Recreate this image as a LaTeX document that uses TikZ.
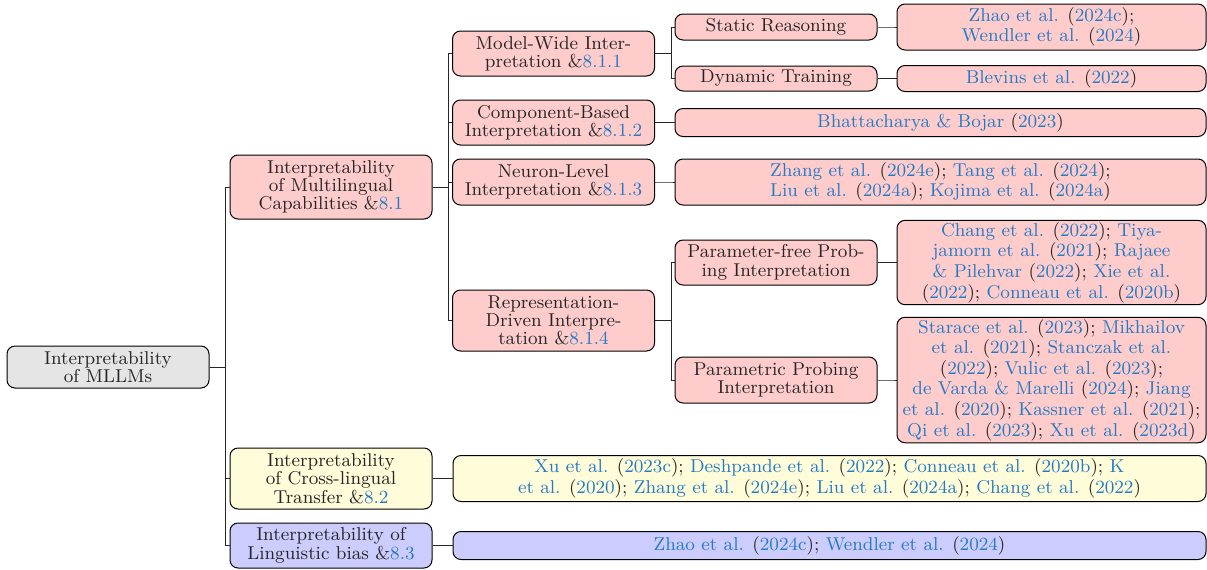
\documentclass[tikz,border=0pt]{standalone}
\usepackage{xcolor}
\usepackage{tikz}
\definecolor{citeblue}{RGB}{37,122,196}
\newcommand{\citeb}[2]{\textcolor{citeblue}{#1} (\textcolor{citeblue}{#2})}
\newcommand{\secb}[1]{\&\textcolor{citeblue}{#1}}
\tikzstyle{itp} = [rectangle, rounded corners=4pt, draw=black, line width=0.5pt, align=center, inner sep=1pt, text=black!85, font=\fontsize{9.3}{9.15}\selectfont]
\tikzstyle{itp_g} = [itp, fill=black!10, minimum width=101pt]
\tikzstyle{itp_r} = [itp, fill=red!20, minimum width=101pt]
\tikzstyle{itp_y} = [itp, fill=yellow!15, minimum width=101pt]
\tikzstyle{itp_b} = [itp, fill=blue!20, minimum width=101pt]
\tikzstyle{edge} = [line width=0.5pt, draw=black!85]

\begin{document}
\begin{tikzpicture}[x=0.5pt,y=-0.5pt]
\useasboundingbox (0,0) rectangle (1207,569);
% root and first level
\node [itp_g, minimum height=21pt] (root) at (108,367) {Interpretability\\of MLLMs};
\node [itp_r, minimum height=32pt] (mlc) at (331,187) {Interpretability\\of Multilingual\\Capabilities \secb{8.1}};
\node [itp_y, minimum height=30.5pt] (clt) at (331,478.5) {Interpretability\\of Cross-lingual\\Transfer \secb{8.2}};
\node [itp_b, minimum height=22.5pt] (lb) at (331,545.5) {Interpretability of\\Linguistic bias \secb{8.3}};
% second level
\node [itp_r, minimum height=22.5pt] (mw) at (553.5,53.5) {Model-Wide Inter-\\pretation \secb{8.1.1}};
\node [itp_r, minimum height=22.5pt] (cb) at (553.5,122.5) {Component-Based\\Interpretation \secb{8.1.2}};
\node [itp_r, minimum height=23pt] (nl) at (553.5,182) {Neuron-Level\\Interpretation \secb{8.1.3}};
\node [itp_r, minimum height=30.5pt] (rd) at (553.5,320.5) {Representation-\\Driven Interpre-\\tation \secb{8.1.4}};
% third level
\node [itp_r, minimum height=13pt] (sr) at (776,27) {Static Reasoning};
\node [itp_r, minimum height=12.5pt] (dt) at (776,78.5) {Dynamic Training};
\node [itp_r, minimum height=22.5pt] (pf) at (776,262.5) {Parameter-free Prob-\\ing Interpretation};
\node [itp_r, minimum height=23pt] (pp) at (776,380) {Parametric Probing\\Interpretation};
% leaves
\node [itp_r, minimum width=154.5pt, minimum height=23pt] (leaf 1) at (1051.5,27) {\citeb{Zhao et al.}{2024c};\\\citeb{Wendler et al.}{2024}};
\node [itp_r, minimum width=154.5pt, minimum height=13pt] (leaf 2) at (1051.5,78.5) {\citeb{Blevins et al.}{2022}};
\node [itp_r, minimum width=265.5pt, minimum height=14pt] (leaf 3) at (940.5,122.5) {\citeb{Bhattacharya \& Bojar}{2023}};
\node [itp_r, minimum width=265.5pt, minimum height=23pt] (leaf 4) at (940.5,182) {\citeb{Zhang et al.}{2024e}; \citeb{Tang et al.}{2024};\\\citeb{Liu et al.}{2024a}; \citeb{Kojima et al.}{2024a}};
\node [itp_r, minimum width=154.5pt, minimum height=40.5pt] (leaf 5) at (1051.5,262.5) {\citeb{Chang et al.}{2022}; \textcolor{citeblue}{Tiya-}\\\citeb{jamorn et al.}{2021}; \textcolor{citeblue}{Rajaee}\\\citeb{\& Pilehvar}{2022}; \textcolor{citeblue}{Xie et al.}\\(\textcolor{citeblue}{2022}); \citeb{Conneau et al.}{2020b}};
\node [itp_r, minimum width=154.5pt, minimum height=60pt] (leaf 6) at (1051.5,380) {\citeb{Starace et al.}{2023}; \textcolor{citeblue}{Mikhailov}\\\citeb{et al.}{2021}; \textcolor{citeblue}{Stanczak et al.}\\(\textcolor{citeblue}{2022}); \citeb{Vulic et al.}{2023};\\\citeb{de Varda \& Marelli}{2024}; \textcolor{citeblue}{Jiang}\\\citeb{et al.}{2020}; \citeb{Kassner et al.}{2021};\\\citeb{Qi et al.}{2023}; \citeb{Xu et al.}{2023d}};
\node [itp_y, minimum width=376.5pt, minimum height=23pt] (leaf 7) at (829.5,478.5) {\citeb{Xu et al.}{2023c}; \citeb{Deshpande et al.}{2022}; \citeb{Conneau et al.}{2020b}; \textcolor{citeblue}{K}\\\citeb{et al.}{2020}; \citeb{Zhang et al.}{2024e}; \citeb{Liu et al.}{2024a}; \citeb{Chang et al.}{2022}};
\node [itp_b, minimum width=376.5pt, minimum height=14pt] (leaf 8) at (829.5,545.5) {\citeb{Zhao et al.}{2024c}; \citeb{Wendler et al.}{2024}};
% forked edges
\foreach \a/\b in {root/mlc, root/clt, root/lb, mlc/mw, mlc/cb, mlc/nl, mlc/rd, mw/sr, mw/dt, rd/pf, rd/pp, sr/leaf 1, dt/leaf 2, cb/leaf 3, nl/leaf 4, pf/leaf 5, pp/leaf 6, clt/leaf 7, lb/leaf 8}
    \draw [edge] (\a.east) -- ++(16,0) |- (\b.west);
\end{tikzpicture}
\end{document}
